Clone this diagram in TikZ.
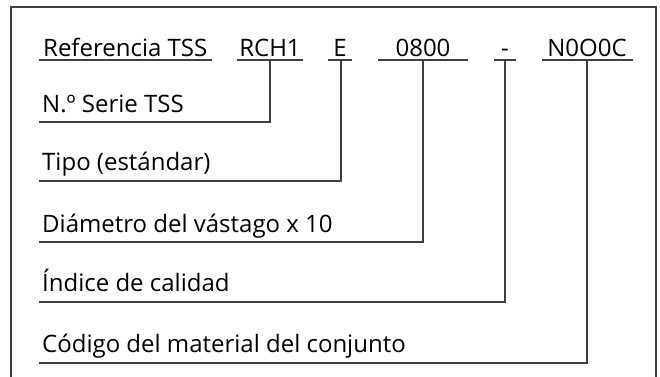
\documentclass[tikz,border=0pt]{standalone}
\usepackage{fontspec}
\setmainfont{Open Sans}
\usepackage{tikz}
\usetikzlibrary{positioning}

\tikzset{
    codetext/.style={anchor=base, inner sep=0pt, font=\fontsize{24}{28}\selectfont},
    desctext/.style={anchor=base west, inner sep=0pt, font=\fontsize{24}{28}\selectfont},
    rule/.style={line width=1.2pt, draw=black!75}
}

\begin{document}
\begin{tikzpicture}[x=1pt, y=-1pt]
    \useasboundingbox (0,0) rectangle (660,376);

    % Frame
    \draw[rule] (11,380) -- (11,7) -- (656,7) -- (656,380);

    % Code row
    \node[desctext] (ref) at (43,56) {Referencia TSS};
    \draw[rule] (39,60) -- (212,60);

    \node[codetext] (rch) at (270,56) {RCH1};
    \draw[rule] (237,60) -- (303,60);
    \coordinate (c1) at (270,60);

    \node[codetext] (typ) at (340,56) {E};
    \draw[rule] (328,60) -- (352,60);
    \coordinate (c2) at (341,60);

    \node[codetext] (dia) at (423,56) {0800};
    \draw[rule] (378,60) -- (468,60);
    \coordinate (c3) at (423,60);

    \node[codetext] (idx) at (505,56) {-};
    \draw[rule] (494,60) -- (516,60);
    \coordinate (c4) at (505,60);

    \node[codetext] (mat) at (587,56) {N0O0C};
    \draw[rule] (542,60) -- (633,60);
    \coordinate (c5) at (587,60);

    % Descriptions
    \coordinate (s1) at (39,122);
    \coordinate (s2) at (39,181);
    \coordinate (s3) at (39,242);
    \coordinate (s4) at (39,302);
    \coordinate (s5) at (39,363);
    \node[desctext] (d1) at ([shift={(3pt,10pt)}]s1) {N.º Serie TSS};
    \node[desctext] (d2) at ([shift={(3pt,11pt)}]s2) {Tipo (estándar)};
    \node[desctext] (d3) at ([shift={(3pt,10pt)}]s3) {Diámetro del vástago x 10};
    \node[desctext] (d4) at ([shift={(3pt,11pt)}]s4) {Índice de calidad};
    \node[desctext] (d5) at ([shift={(3pt,11pt)}]s5) {Código del material del conjunto};

    % Connectors
    \draw[rule] (c1) |- (s1);
    \draw[rule] (c2) |- (s2);
    \draw[rule] (c3) |- (s3);
    \draw[rule] (c4) |- (s4);
    \draw[rule] (c5) |- (s5);
\end{tikzpicture}
\end{document}
